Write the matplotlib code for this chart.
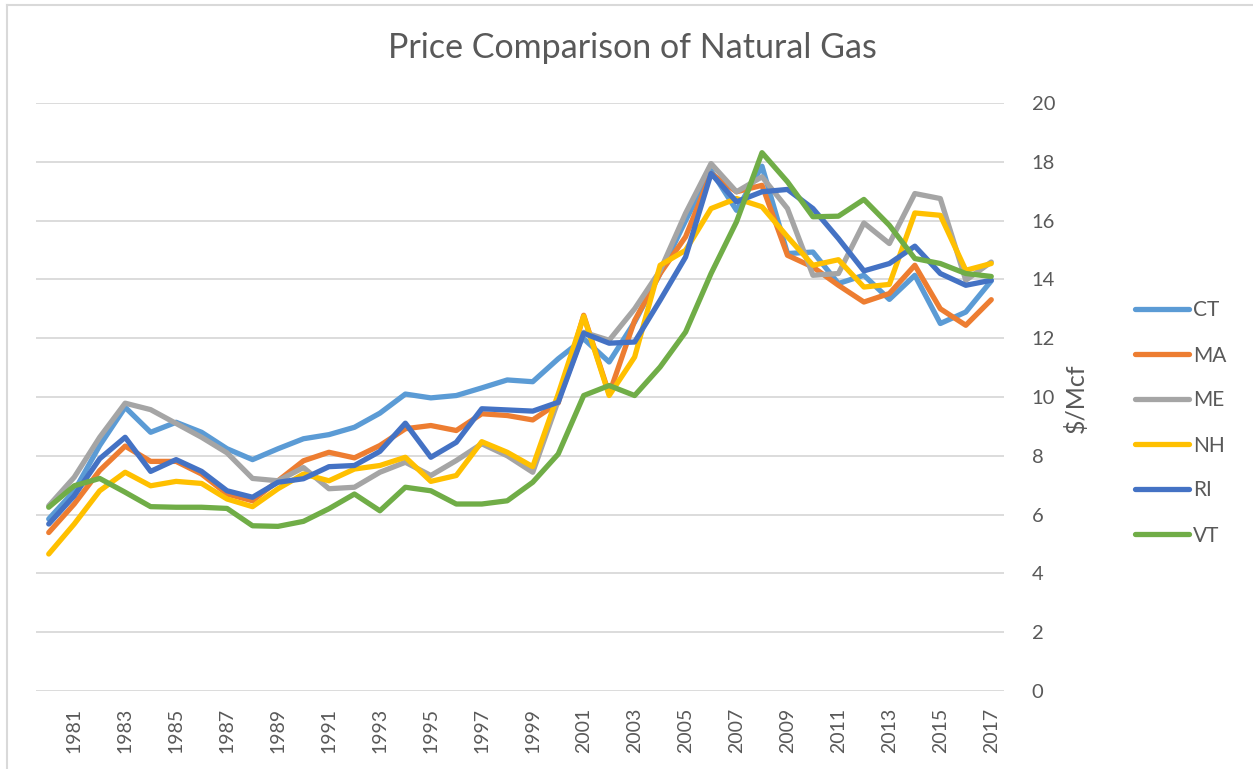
import matplotlib
matplotlib.use('Agg')
import matplotlib.pyplot as plt
from matplotlib.lines import Line2D

# 年份与各州天然气价格 ($/Mcf)
years = list(range(1980, 2018))
states = ['CT', 'MA', 'ME', 'NH', 'RI', 'VT']
colors = ['#5B9BD5', '#ED7D31', '#A5A5A5', '#FFC000', '#4472C4', '#70AD47']

CT = [5.85, 6.8, 8.35, 9.65, 8.8, 9.14, 8.8, 8.24, 7.87, 8.24,
      8.58, 8.72, 8.97, 9.45, 10.1, 9.97, 10.05, 10.31, 10.58, 10.52,
      11.3, 11.98, 11.19, 12.55, 14.2, 16.0, 17.7, 16.35, 17.85, 14.88,
      14.93, 13.86, 14.14, 13.32, 14.14, 12.5, 12.89, 13.95]
MA = [5.39, 6.36, 7.5, 8.33, 7.81, 7.81, 7.38, 6.7, 6.47, 7.15,
      7.83, 8.12, 7.93, 8.35, 8.92, 9.03, 8.86, 9.43, 9.37, 9.22,
      9.8, 12.78, 10.1, 12.6, 14.2, 15.45, 17.6, 16.98, 17.2, 14.82,
      14.42, 13.8, 13.23, 13.52, 14.48, 13.0, 12.44, 13.31]
ME = [6.3, 7.27, 8.63, 9.79, 9.57, 9.1, 8.63, 8.1, 7.23, 7.15,
      7.6, 6.88, 6.93, 7.44, 7.78, 7.33, 7.84, 8.41, 8.0, 7.44,
      9.88, 12.2, 11.93, 13.0, 14.3, 16.25, 17.94, 16.98, 17.49, 16.41,
      14.14, 14.2, 15.92, 15.22, 16.92, 16.75, 13.97, 14.59]
NH = [4.66, 5.68, 6.81, 7.44, 6.98, 7.13, 7.06, 6.53, 6.27, 6.88,
      7.38, 7.15, 7.55, 7.67, 7.95, 7.13, 7.33, 8.48, 8.12, 7.63,
      10.1, 12.75, 10.05, 11.36, 14.48, 14.99, 16.41, 16.75, 16.47, 15.45,
      14.48, 14.67, 13.74, 13.83, 16.26, 16.18, 14.31, 14.54]
RI = [5.68, 6.64, 7.9, 8.63, 7.47, 7.87, 7.47, 6.81, 6.59, 7.1,
      7.22, 7.63, 7.67, 8.15, 9.11, 7.95, 8.46, 9.6, 9.56, 9.52,
      9.82, 12.17, 11.83, 11.87, 13.29, 14.76, 17.6, 16.64, 16.98, 17.06,
      16.41, 15.39, 14.29, 14.54, 15.13, 14.2, 13.8, 13.97]
VT = [6.25, 6.98, 7.23, 6.76, 6.27, 6.25, 6.25, 6.21, 5.62, 5.6,
      5.77, 6.2, 6.7, 6.13, 6.93, 6.81, 6.36, 6.36, 6.47, 7.1,
      8.06, 10.05, 10.39, 10.05, 11.02, 12.21, 14.2, 15.96, 18.31, 17.32,
      16.13, 16.15, 16.72, 15.84, 14.71, 14.54, 14.2, 14.1]
series = [CT, MA, ME, NH, RI, VT]

xtick_years = list(range(1981, 2018, 2))
yticks = list(range(0, 21, 2))

plt.rcParams['font.family'] = ['Lato', 'DejaVu Sans']
txt = '#595959'
grid = '#D9D9D9'

fig = plt.figure(figsize=(12.53, 7.69), dpi=100)
ax = fig.add_axes([36/1253, 1-691/769, (1004-36)/1253, (691-103)/769])

for name, vals, c in zip(states, series, colors):
    ax.plot(years, vals, color=c, lw=3.8, label=name,
            solid_capstyle='round', solid_joinstyle='round')

ax.set_xlim(1979.5, 2017.5)
ax.set_ylim(0, 20)
ax.set_xticks(xtick_years)
ax.set_xticklabels([str(y) for y in xtick_years], rotation=90, fontsize=14, color=txt)
ax.set_yticks(yticks)
ax.set_yticklabels([str(v) for v in yticks], fontsize=14.5, color=txt)
ax.yaxis.tick_right()
ax.tick_params(axis='both', length=0)
ax.tick_params(axis='x', pad=12)
ax.tick_params(axis='y', pad=20)
for s in ax.spines.values():
    s.set_visible(False)
ax.grid(axis='y', color=grid, lw=1.3)
ax.set_axisbelow(True)

fig.text(632/1253, 1-48/769, 'Price Comparison of Natural Gas', ha='center', va='center',
         fontsize=24.5, color=txt)
fig.text(1076/1253, 1-398/769, '$/Mcf', rotation=90, ha='center', va='center',
         fontsize=18, color=txt)

# 图例
handles = [Line2D([0], [0], color=c, lw=3.8, solid_capstyle='round') for c in colors]
fig.legend(handles, states, loc='center left', bbox_to_anchor=(1135/1253, 1-423/769),
           frameon=False, fontsize=15, handlelength=2.6, handletextpad=0.2,
           labelspacing=1.2, borderpad=0, borderaxespad=0, labelcolor=txt)

# 图表外框（左、上）
fig.add_artist(Line2D([6.5/1253, 6.5/1253], [0, 1-5/769], color=grid, lw=1.5))
fig.add_artist(Line2D([6.5/1253, 1], [1-5/769, 1-5/769], color=grid, lw=1.5))

fig.savefig('out.png', dpi=100)
